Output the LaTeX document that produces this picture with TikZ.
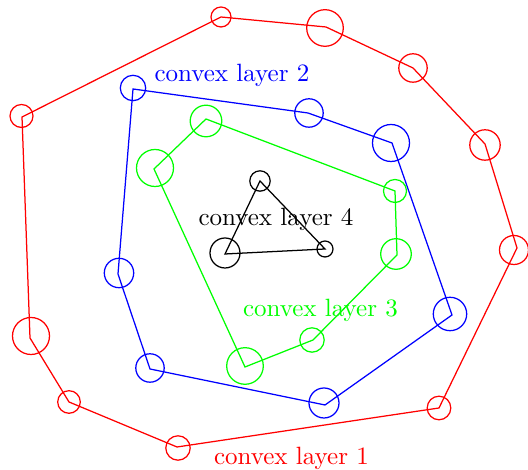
\documentclass[tikz,border=0pt]{standalone}
\usepackage{xcolor}
\usepackage{tikz}

\begin{document}
\begin{tikzpicture}[x=0.40pt,y=-0.40pt,line width=0.5pt]
\useasboundingbox (0,0) rectangle (528,470);

% convex layer 1
\coordinate (r1) at (22,117);
\coordinate (r2) at (221,17);
\coordinate (r3) at (326,27);
\coordinate (r4) at (413,68);
\coordinate (r5) at (485,144);
\coordinate (r6) at (517,248);
\coordinate (r7) at (439,408);
\coordinate (r8) at (177,447);
\coordinate (r9) at (69,402);
\coordinate (r10) at (30,338);
\draw[red] (r1) -- (r2) -- (r3) -- (r4) -- (r5) -- (r6) -- (r7) -- (r8) -- (r9) -- (r10) -- cycle;
\foreach \x/\y/\r in {21.5/116/11.5, 221/17/10, 325/28/18.3, 413/68/14.2, 485/145/15.2,
  514/250/14.5, 439/408/11.8, 178/448/12.2, 69/402/11.3, 31/336/18.5}
  \draw[red] (\x,\y) circle (\r*0.40pt);

% convex layer 2
\coordinate (b1) at (133,89);
\coordinate (b2) at (308,113);
\coordinate (b3) at (392,143);
\coordinate (b4) at (452,315);
\coordinate (b5) at (325,405);
\coordinate (b6) at (150,369);
\coordinate (b7) at (118,274);
\draw[blue] (b1) -- (b2) -- (b3) -- (b4) -- (b5) -- (b6) -- (b7) -- cycle;
\foreach \x/\y/\r in {133/88/12.7, 309/113/14.2, 391/143/18.5, 450/314/16.7,
  324/403/15, 150/368/14.2, 119/273/14.7}
  \draw[blue] (\x,\y) circle (\r*0.40pt);

% convex layer 3
\coordinate (g1) at (206,119);
\coordinate (g2) at (395,191);
\coordinate (g3) at (397,255);
\coordinate (g4) at (313,340);
\coordinate (g5) at (245,367);
\coordinate (g6) at (154,169);
\draw[green] (g1) -- (g2) -- (g3) -- (g4) -- (g5) -- (g6) -- cycle;
\foreach \x/\y/\r in {206/121/15.8, 395/191/11.5, 396/254/15.3, 312/340/12.2,
  245/366/18.3, 155/168/18.5}
  \draw[green] (\x,\y) circle (\r*0.40pt);

% convex layer 4
\coordinate (k1) at (260,181);
\coordinate (k2) at (325,249);
\coordinate (k3) at (225,254);
\draw (k1) -- (k2) -- (k3) -- cycle;
\foreach \x/\y/\r in {260/181/10.2, 325/249/8, 225/253/15}
  \draw (\x,\y) circle (\r*0.40pt);

\node[red,anchor=base] (lab1) at (291.5,465) {convex layer 1};
\node[blue,anchor=base] (lab2) at (232,82) {convex layer 2};
\node[green,anchor=base] (lab3) at (320.5,317) {convex layer 3};
\node[anchor=base] (lab4) at (276,226) {convex layer 4};
\end{tikzpicture}
\end{document}
